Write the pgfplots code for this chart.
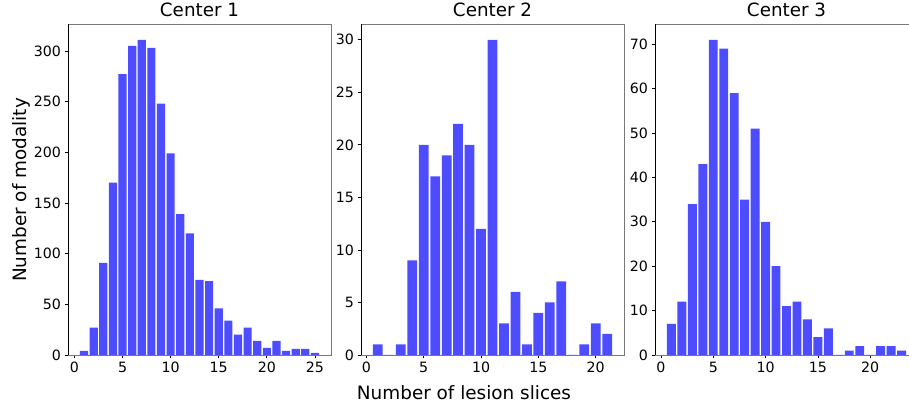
\documentclass[border=0pt]{standalone}
\usepackage{fontspec}
\setmainfont{DejaVu Sans}
\usepackage{pgfplots}
\pgfplotsset{compat=1.18}
\definecolor{barblue}{RGB}{77,77,255}
\definecolor{spinegray}{RGB}{120,120,120}

\pgfplotsset{
  panel/.style={
    scale only axis,
    width=263pt, height=331pt,
    anchor=south west,
    ymin=0,
    axis line style={spinegray, line width=0.9pt},
    tick pos=left,
    tick align=outside,
    major tick length=3.5pt,
    tick style={black, line width=0.7pt},
    /pgf/number format/assume math mode=true,
    ticklabel style={font=\fontsize{14.2}{17}\selectfont},
    title style={at={(0.5,1)}, anchor=base, yshift=1pt, font=\fontsize{18.3}{21}\selectfont},
    ybar, bar width=0.85, bar shift=0pt,
    scaled y ticks=false,
  },
}
\newcommand{\blackspines}{\draw[black, line width=0.9pt] (rel axis cs:0,1) -- (rel axis cs:0,0) -- (rel axis cs:1,0);}

\begin{document}
\begin{tikzpicture}
% Center 1
\begin{axis}[panel, at={(68pt,51pt)},
  title={Center 1},
  xmin=-0.67, xmax=26.67, ymax=326.55,
  xtick={0,5,...,25}, ytick={0,50,...,300}]
  \blackspines
  \addplot[draw=none, fill=barblue] coordinates {
    (1,4) (2,27) (3,91) (4,170) (5,277) (6,305) (7,311) (8,303) (9,248)
    (10,199) (11,139) (12,120) (13,74) (14,73) (15,46) (16,34) (17,20)
    (18,27) (19,14) (20,7) (21,14) (22,4) (23,6) (24,6) (25,2)};
\end{axis}
% Center 2
\begin{axis}[panel, at={(361pt,51pt)},
  title={Center 2},
  xmin=-0.47, xmax=22.47, ymax=31.5,
  xtick={0,5,...,20}, ytick={0,5,...,30}]
  \blackspines
  \addplot[draw=none, fill=barblue] coordinates {
    (1,1) (2,0) (3,1) (4,9) (5,20) (6,17) (7,19) (8,22) (9,20) (10,12)
    (11,30) (12,3) (13,6) (14,1) (15,4) (16,5) (17,7) (18,0) (19,1)
    (20,3) (21,2)};
\end{axis}
% Center 3
\begin{axis}[panel, at={(655pt,51pt)},
  title={Center 3},
  xmin=-0.57, xmax=24.57, ymax=74.55,
  xtick={0,5,...,20}, ytick={0,10,...,70}]
  \blackspines
  \addplot[draw=none, fill=barblue] coordinates {
    (1,7) (2,12) (3,34) (4,43) (5,71) (6,69) (7,59) (8,35) (9,51) (10,30)
    (11,20) (12,11) (13,12) (14,8) (15,4) (16,6) (17,0) (18,1) (19,2)
    (20,0) (21,2) (22,2) (23,1)};
\end{axis}
\node[anchor=base, font=\fontsize{18.4}{21}\selectfont] at (464pt,6pt) {Number of lesion slices};
\node[anchor=base, rotate=90, font=\fontsize{18.4}{21}\selectfont] at (27pt,216pt) {Number of modality};
\pgfresetboundingbox
\useasboundingbox (0,0) rectangle (909pt,406pt);
\end{tikzpicture}
\end{document}
